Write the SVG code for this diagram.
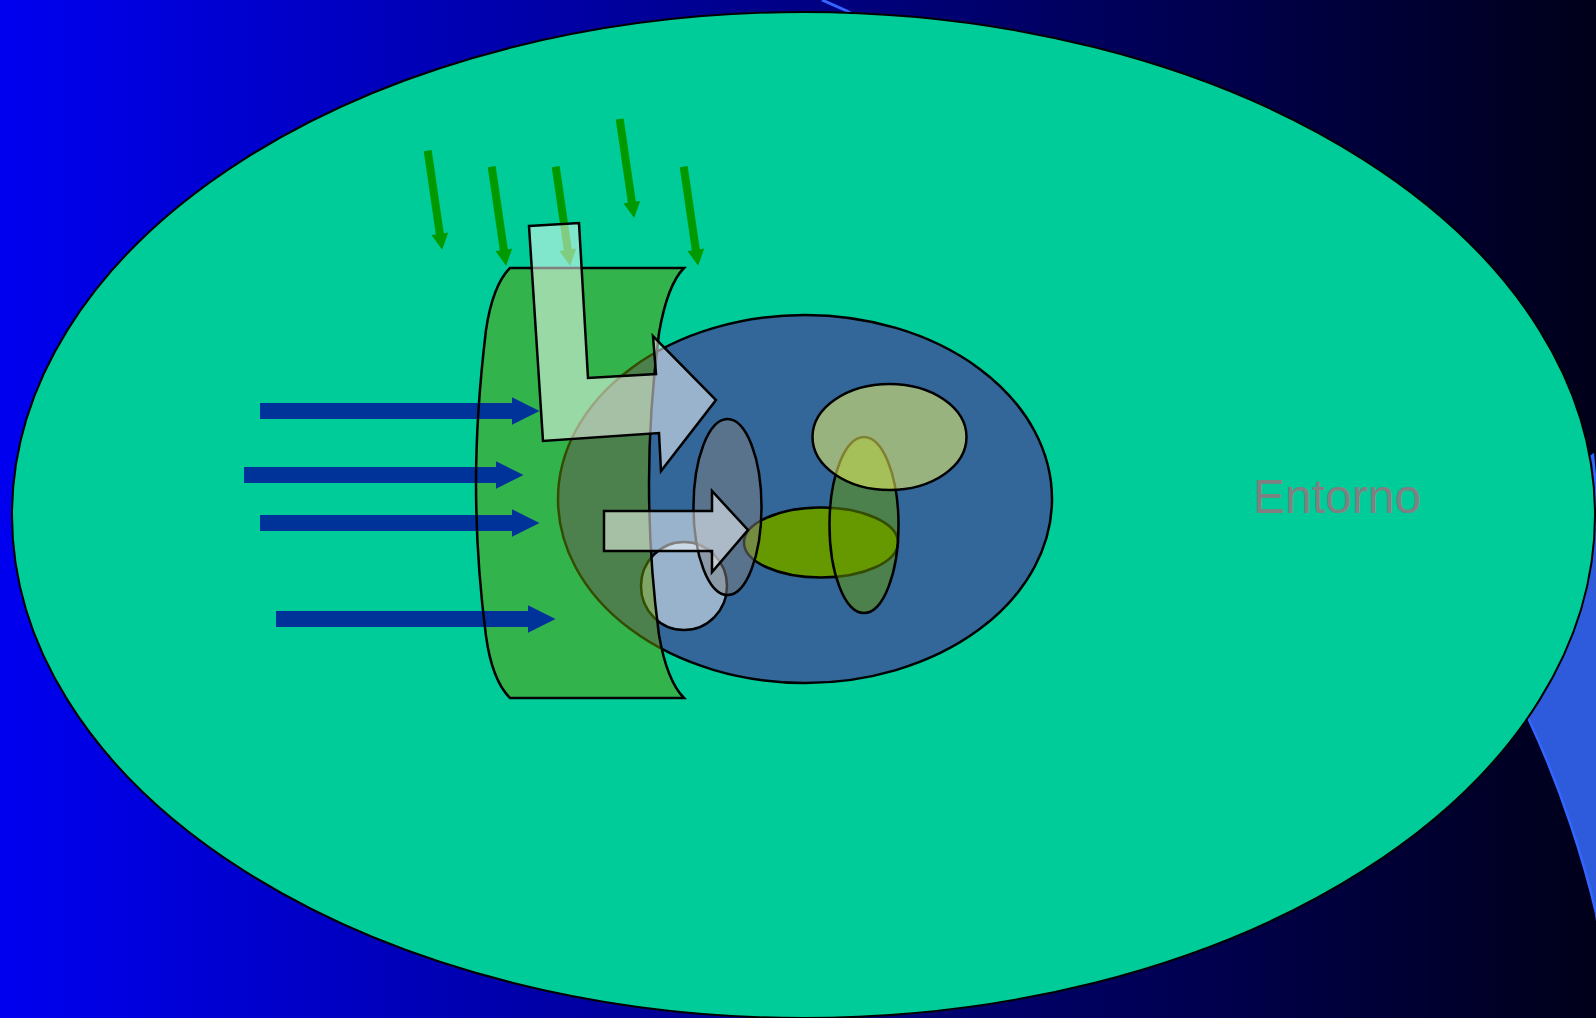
<svg xmlns="http://www.w3.org/2000/svg" xmlns:xlink="http://www.w3.org/1999/xlink" width="1596" height="1018" viewBox="0 0 1596 1018">
  <style>
    .outline { stroke: #000; stroke-width: 2.5; }
    .half { fill-opacity: 0.5; }
    .garrow { fill: #009900; }
    .barrow { fill: #003399; }
    .warrow { fill: #ffffff; fill-opacity: 0.5; stroke: #000; stroke-width: 2.5; }
    .label { font-family: "Liberation Sans", Arial, sans-serif; font-size: 48px; fill: #808080; }
  </style>
  <defs>
    <linearGradient id="bg" x1="0" y1="0" x2="1" y2="0">
      <stop offset="0" stop-color="#0000f0"/>
      <stop offset="1" stop-color="#00001a"/>
    </linearGradient>
    <polygon id="gArrow" points="-4,0 4,0 4,84 8.5,84 0,100 -8.5,84 -4,84"/>
    <polygon id="bArrow" points="0,-8 252,-8 252,-13.7 279.5,0 252,13.7 252,8 0,8"/>
    <path id="panelShape" d="M 510,268 L 684,268 C 670,282 663,310 659,333 C 653,380 649,440 649,483 C 649,530 653,590 659,635 C 663,658 670,684 684,698 L 510,698 C 496,684 489,658 486,636 C 480,590 476,530 476,483 C 476,440 480,380 486,330 C 489,310 496,282 510,268 Z"/>
  </defs>

  <rect id="background" x="0" y="0" width="1596" height="1018" fill="url(#bg)"/>

  <g id="back-shape">
    <path d="M 822,0 L 847,11 L 900,40" fill="none" stroke="#3366ff" stroke-width="3"/>
    <path d="M 1593,455 C 1597,500 1600,530 1600,560 L 1600,940 L 1596,913 C 1585,865 1562,790 1529,720 L 1450,560 Z" fill="#2e5bdb" stroke="#3366ff" stroke-width="2.5"/>
  </g>

  <g id="entorno">
    <ellipse cx="803.5" cy="515" rx="791.5" ry="503" fill="#00cc99" stroke="#000" stroke-width="2"/>
  </g>

  <g id="connectors-green">
    <use xlink:href="#gArrow" class="garrow" transform="translate(427.7,150.7) rotate(-8.3)"/>
    <use xlink:href="#gArrow" class="garrow" transform="translate(491.7,166.7) rotate(-8.3)"/>
    <use xlink:href="#gArrow" class="garrow" transform="translate(555.7,166.7) rotate(-8.3)"/>
    <use xlink:href="#gArrow" class="garrow" transform="translate(619.7,119) rotate(-8.3)"/>
    <use xlink:href="#gArrow" class="garrow" transform="translate(683.7,166.7) rotate(-8.3)"/>
  </g>

  <g id="cell">
    <ellipse cx="805" cy="499" rx="247" ry="184" fill="#336699" class="outline"/>
  </g>
  <g id="vesicle">
    <ellipse cx="684" cy="586" rx="43" ry="44" fill="#ffffff" class="outline half"/>
  </g>
  <g id="organelle-green">
    <ellipse cx="821" cy="542.5" rx="77" ry="35" fill="#669900" class="outline"/>
  </g>
  <g id="organelle-gray">
    <ellipse cx="727.5" cy="507" rx="34" ry="88" fill="#808080" class="outline half"/>
  </g>
  <g id="organelle-tall">
    <ellipse cx="864" cy="525" rx="34.5" ry="88" fill="#669900" class="outline half"/>
  </g>
  <g id="organelle-yellow">
    <ellipse cx="889.5" cy="437" rx="77" ry="53" fill="#ffff66" class="outline half"/>
  </g>

  <g id="panel">
    <use xlink:href="#panelShape" fill="#669900" fill-opacity="0.5" stroke="none"/>
  </g>

  <g id="connectors-blue">
    <use xlink:href="#bArrow" class="barrow" transform="translate(260,411)"/>
    <use xlink:href="#bArrow" class="barrow" transform="translate(244,475)"/>
    <use xlink:href="#bArrow" class="barrow" transform="translate(260,523)"/>
    <use xlink:href="#bArrow" class="barrow" transform="translate(276,619)"/>
  </g>

  <g id="panel-outline">
    <use xlink:href="#panelShape" fill="none" stroke="#000" stroke-width="2.5"/>
  </g>

  <g id="connectors-white">
    <polygon class="warrow" points="529,226 579,223 588,378 656,374 653,336 716,400 661,471 659,433 543,441"/>
    <polygon class="warrow" points="604,511 712,511 712,491 748,530 712,572 712,551 604,551"/>
  </g>

  <g id="label">
    <text class="label" x="1253" y="513">Entorno</text>
  </g>
</svg>
